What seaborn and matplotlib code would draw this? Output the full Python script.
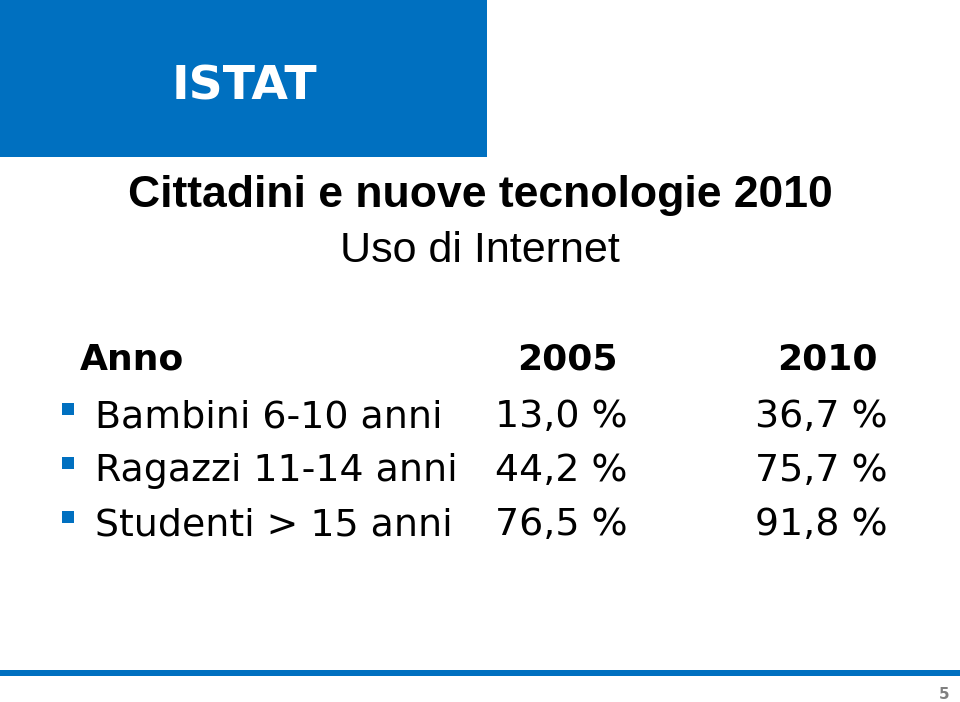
"""Slide: Cittadini e nuove tecnologie 2010 - Uso di Internet."""

import matplotlib
matplotlib.use('Agg')
import matplotlib.pyplot as plt
import matplotlib.patches as mpatches
import pandas as pd
import seaborn as sns

# data
categories = ['Bambini 6-10 anni', 'Ragazzi 11-14 anni', 'Studenti > 15 anni']
years = ['2005', '2010']
values_2005 = [13.0, 44.2, 76.5]
values_2010 = [36.7, 75.7, 91.8]

BLUE = '#0070C0'


def fmt(v):
    return f'{v:.1f}'.replace('.', ',') + ' %'


def _main():
    sns.set_style('white')
    plt.rcParams['font.family'] = ['DejaVu Sans']
    plt.rcParams['text.color'] = 'black'

    fig = plt.figure(figsize=(9.6, 7.02), dpi=100)
    ax = fig.add_axes([0, 0, 1, 1])
    ax.set_xlim(0, 960)
    ax.set_ylim(702, 0)
    ax.axis('off')

    # header block and footer rule
    ax.add_patch(mpatches.Rectangle((0, 0), 487, 157, color=BLUE, lw=0))
    ax.add_patch(mpatches.Rectangle((0, 670), 960, 6, color=BLUE, lw=0))
    ax.text(172, 99, 'ISTAT', color='white', fontsize=34, fontweight='bold',
            va='baseline', ha='left')

    ax.text(480, 207, 'Cittadini e nuove tecnologie 2010', fontsize=32,
            fontweight='bold', family='Liberation Sans', ha='center', va='baseline')
    ax.text(480, 262, 'Uso di Internet', fontsize=31, family='Liberation Sans',
            ha='center', va='baseline')

    # table header
    ax.text(80, 370, 'Anno', fontsize=26, fontweight='bold', va='baseline')
    header_x = [517, 777]
    for x, y in zip(header_x, years):
        ax.text(x, 370, y, fontsize=26, fontweight='bold', va='baseline')

    # rows
    df = pd.DataFrame({'label': categories, '2005': values_2005, '2010': values_2010})
    df['y'] = [427, 481, 535]
    sns.scatterplot(x=[68] * len(df), y=df['y'] - 18, marker='s', s=80,
                    color=BLUE, edgecolor='none', ax=ax, legend=False)
    for _, row in df.iterrows():
        ax.text(95, row['y'], row['label'], fontsize=27.3, va='baseline')
        ax.text(495, row['y'], fmt(row['2005']), fontsize=27.3, va='baseline')
        ax.text(755, row['y'], fmt(row['2010']), fontsize=27.3, va='baseline')
    ax.set_xlim(0, 960)
    ax.set_ylim(702, 0)

    ax.text(949, 699, '5', fontsize=11, fontweight='bold', color='#808080',
            ha='right', va='baseline')

    fig.savefig('out.png', dpi=100)
    plt.close(fig)


if __name__ == '__main__':
    _main()
